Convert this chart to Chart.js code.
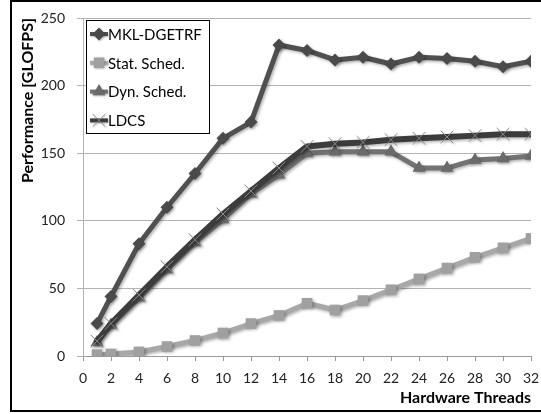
<!DOCTYPE html>
<html>
<head>
<meta charset="utf-8">
<script src="https://cdn.jsdelivr.net/npm/chart.js@4/dist/chart.umd.min.js"></script>
<style>
  html, body { margin: 0; padding: 0; background: #fff; }
  #wrap { width: 541px; height: 414px; }
</style>
</head>
<body>
<div id="wrap"><canvas id="c" width="541" height="414"></canvas></div>
<script>
// Hardware thread counts measured
const threads = [1, 2, 4, 6, 8, 10, 12, 14, 16, 18, 20, 22, 24, 26, 28, 30, 32];

// Performance in GFLOPS for each scheduler
const mklDgetrf = [24, 44, 83, 110, 135, 161, 173, 230, 226, 219, 221, 216, 221, 220, 218, 214, 218];
const statSched = [1, 1.5, 3, 7, 11.5, 17, 24, 30, 39, 34, 41, 49, 57, 65, 73, 80, 87];
const dynSched  = [10, 23, 43, 64, 84, 101, 120, 134, 150, 151, 151, 151, 139, 139, 145, 146, 148];
const ldcs      = [11, 24, 45, 66, 86, 105, 122, 139, 155, 157, 158, 160, 161, 162, 163, 164, 164];

const seriesNames = ['MKL-DGETRF', 'Stat. Sched.', 'Dyn. Sched.', 'LDCS'];

const xTickStep = 2;
const yTickStep = 50;

const pts = vals => threads.map((t, i) => ({ x: t, y: vals[i] }));

const datasets = [
  {
    label: seriesNames[0], data: pts(mklDgetrf),
    borderColor: '#505050', backgroundColor: '#4a4a4a', borderWidth: 5,
    pointStyle: 'rectRot', pointRadius: 6.5, pointBorderWidth: 0,
    pointBackgroundColor: '#4a4a4a', order: 3
  },
  {
    label: seriesNames[1], data: pts(statSched),
    borderColor: '#a8a8a8', backgroundColor: '#a0a0a0', borderWidth: 5,
    pointStyle: 'rect', pointRadius: 7.5, pointBorderWidth: 0,
    pointBackgroundColor: '#a0a0a0', order: 2
  },
  {
    label: seriesNames[2], data: pts(dynSched),
    borderColor: '#727272', backgroundColor: '#6a6a6a', borderWidth: 5,
    pointStyle: 'triangle', pointRadius: 7.5, pointBorderWidth: 0,
    pointBackgroundColor: '#6a6a6a', order: 1
  },
  {
    label: seriesNames[3], data: pts(ldcs),
    borderColor: '#3c3c3c', backgroundColor: '#888888', borderWidth: 6,
    pointStyle: 'crossRot', pointRadius: 9, pointBorderWidth: 1,
    pointBorderColor: '#8a8a8a', pointBackgroundColor: '#8a8a8a', order: 0
  }
];

// Soft drop shadow under the series
const seriesShadow = {
  id: 'seriesShadow',
  beforeDatasetsDraw(chart) {
    const ctx = chart.ctx;
    ctx.save();
    ctx.shadowColor = 'rgba(0,0,0,0.3)';
    ctx.shadowBlur = 3;
    ctx.shadowOffsetX = 1.5;
    ctx.shadowOffsetY = 1.5;
  },
  afterDatasetsDraw(chart) {
    chart.ctx.restore();
  }
};

// White page background and the black frame
const pageFrame = {
  id: 'pageFrame',
  beforeDraw(chart) {
    const ctx = chart.ctx;
    ctx.save();
    ctx.fillStyle = '#fff';
    ctx.fillRect(0, 0, chart.width, chart.height);
    ctx.restore();
  },
  afterDraw(chart) {
    const ctx = chart.ctx;
    ctx.save();
    ctx.strokeStyle = '#000';
    ctx.lineWidth = 2;
    ctx.beginPath();
    ctx.moveTo(chart.width + 2, 1);
    ctx.lineTo(11, 1);
    ctx.lineTo(11, 411);
    ctx.lineTo(chart.width + 2, 411);
    ctx.stroke();
    ctx.restore();
  }
};

function drawMarker(ctx, ds, x, y) {
  const opts = {
    pointStyle: ds.pointStyle, radius: ds.pointRadius, rotation: 0,
    borderWidth: ds.pointBorderWidth
  };
  ctx.fillStyle = ds.pointBackgroundColor;
  ctx.strokeStyle = ds.pointBorderColor || ds.pointBackgroundColor;
  ctx.lineWidth = ds.pointBorderWidth || 0;
  Chart.helpers.drawPoint(ctx, opts, x, y);
}

// Boxed legend inside the plot area
const boxedLegend = {
  id: 'boxedLegend',
  afterDatasetsDraw(chart) {
    const ctx = chart.ctx;
    const box = { x: 86.5, y: 20.5, w: 123, h: 113 };
    ctx.save();
    ctx.fillStyle = '#fff';
    ctx.fillRect(box.x, box.y, box.w, box.h);
    ctx.strokeStyle = '#000';
    ctx.lineWidth = 1;
    ctx.strokeRect(box.x, box.y, box.w, box.h);
    ctx.font = '15px Lato';
    ctx.textBaseline = 'middle';
    ctx.textAlign = 'left';
    chart.data.datasets.forEach((ds, i) => {
      const cy = 34 + i * 28.8;
      ctx.save();
      ctx.shadowColor = 'rgba(0,0,0,0.25)';
      ctx.shadowBlur = 2;
      ctx.shadowOffsetX = 1;
      ctx.shadowOffsetY = 1;
      ctx.strokeStyle = ds.borderColor;
      ctx.lineWidth = 4;
      ctx.beginPath();
      ctx.moveTo(90, cy);
      ctx.lineTo(108, cy);
      ctx.stroke();
      drawMarker(ctx, ds, 99, cy);
      ctx.restore();
      ctx.fillStyle = '#000';
      ctx.fillText(ds.label, 108, cy + 1);
    });
    ctx.restore();
  }
};

// Fix the axis box sizes and drop the automatic label overhang padding
function fixBox(size, key) {
  return scale => {
    scale[key] = size;
    scale.paddingTop = 0;
    scale.paddingBottom = 0;
    scale.paddingLeft = 0;
    scale.paddingRight = 0;
  };
}

new Chart(document.getElementById('c'), {
  type: 'line',
  data: { datasets },
  options: {
    responsive: false,
    animation: false,
    layout: { padding: { top: 18, right: 10, left: 0, bottom: 0 } },
    plugins: {
      legend: { display: false },
      tooltip: { enabled: false }
    },
    elements: { line: { tension: 0, borderJoinStyle: 'round', borderCapStyle: 'round' } },
    scales: {
      x: {
        type: 'linear',
        min: 0, max: 32,
        ticks: {
          stepSize: xTickStep, color: '#222', padding: 9,
          font: { family: 'Lato', size: 14 }, maxRotation: 0, autoSkip: false
        },
        grid: { drawOnChartArea: false, drawTicks: true, tickLength: 5, color: '#9a9a9a' },
        border: { color: '#9a9a9a', width: 1 },
        title: {
          display: true, text: 'Hardware Threads', align: 'end', color: '#000',
          font: { family: 'Lato', size: 16, weight: 'bold' },
          padding: { top: 0, bottom: 7 }
        },
        afterFit: fixBox(58, 'height')
      },
      y: {
        min: 0, max: 250,
        ticks: {
          stepSize: yTickStep, color: '#222', padding: 12,
          font: { family: 'Lato', size: 14 }
        },
        grid: { color: '#b4b4b4', tickLength: 6, lineWidth: 1 },
        border: { color: '#b4b4b4', width: 1 },
        title: {
          display: true, text: 'Performance [GLOFPS]', align: 'end', color: '#000',
          font: { family: 'Lato', size: 16, weight: 'bold' },
          padding: { top: 18, bottom: 0 }
        },
        afterFit: fixBox(83, 'width')
      }
    }
  },
  plugins: [pageFrame, seriesShadow, boxedLegend]
});
</script>
</body>
</html>
